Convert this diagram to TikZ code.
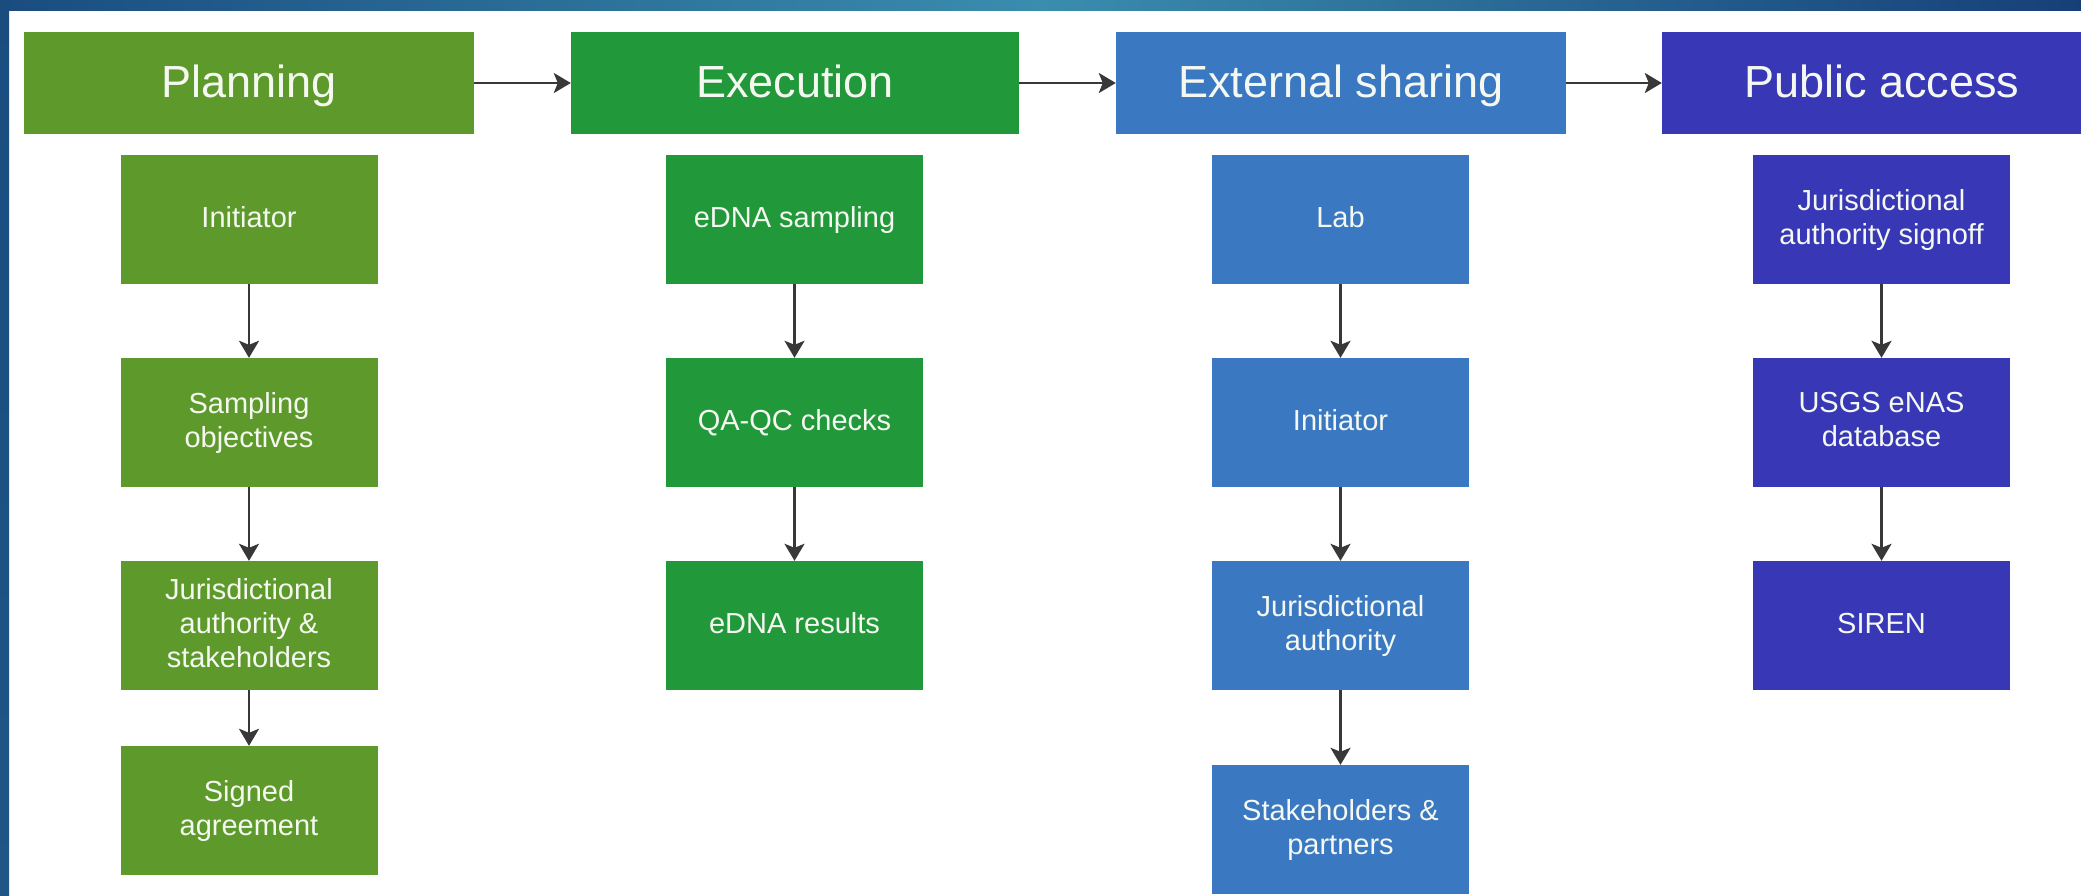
\documentclass[tikz,border=0pt]{standalone}
\usepackage{fontspec}
\setmainfont{Liberation Sans}
\usetikzlibrary{arrows.meta}

\definecolor{planC}{HTML}{5E9A2B}
\definecolor{execC}{HTML}{21983A}
\definecolor{shareC}{HTML}{3B78C2}
\definecolor{pubC}{HTML}{3838B6}
\definecolor{frameDark}{HTML}{1A4C80}
\definecolor{frameLight}{HTML}{3A8DAE}
\definecolor{frameRight}{HTML}{163F78}
\definecolor{lineC}{HTML}{383838}
\definecolor{textC}{HTML}{F4F8F0}

\begin{document}
\begin{tikzpicture}[x=1pt,y=-1pt,
  header/.style={rectangle, inner sep=0pt, minimum width=450pt, minimum height=102pt,
    text height=32pt, text depth=3pt,
    text=textC, font=\fontsize{45}{50}\selectfont},
  stepbox/.style={rectangle, inner sep=0pt, minimum width=257pt, minimum height=129pt,
    text=textC, align=center, font=\fontsize{29}{34}\selectfont,
    execute at begin node={\rule{0pt}{22pt}},
    execute at end node={\rule[-6pt]{0pt}{6pt}}},
  flow/.style={draw=lineC, line width=2.6pt,
    -{Stealth[length=17pt,width=20pt,inset=4pt]}}
]
\useasboundingbox (0,0) rectangle (2081,895);
\clip (0,0) rectangle (2081,895);
\fill[white] (0,0) rectangle (2081,895);

% frame strips
\shade[left color=frameDark, right color=frameRight, middle color=frameLight]
  (0,0) rectangle (2081,10);
\shade[top color=frameDark, bottom color=frameDark!85!frameLight] (0,0) rectangle (9,895);

% stage headers
\node[header, fill=planC]  (plan)  at (249,83)    {Planning};
\node[header, fill=execC, minimum width=448pt] (exec) at (795,83) {Execution};
\node[header, fill=shareC] (share) at (1341,83)   {External sharing};
\node[header, fill=pubC, minimum width=440pt] (pub) at (1882,83) {Public access};

\draw[flow] (plan) -- (exec);
\draw[flow] (exec) -- (share);
\draw[flow] (share) -- (pub);

% planning column
\node[stepbox, fill=planC] (p1) at (249,219.5) {Initiator};
\node[stepbox, fill=planC] (p2) at (249,422.5) {Sampling\\objectives};
\node[stepbox, fill=planC] (p3) at (249,625.5) {Jurisdictional\\authority \&\\stakeholders};
\node[stepbox, fill=planC] (p4) at (249,810.5) {Signed\\agreement};

% execution column
\node[stepbox, fill=execC] (e1) at (794.5,219.5) {eDNA sampling};
\node[stepbox, fill=execC] (e2) at (794.5,422.5) {QA-QC checks};
\node[stepbox, fill=execC] (e3) at (794.5,625.5) {eDNA results};

% external sharing column
\node[stepbox, fill=shareC] (s1) at (1340.5,219.5) {Lab};
\node[stepbox, fill=shareC] (s2) at (1340.5,422.5) {Initiator};
\node[stepbox, fill=shareC] (s3) at (1340.5,625.5) {Jurisdictional\\authority};
\node[stepbox, fill=shareC] (s4) at (1340.5,829.5) {Stakeholders \&\\partners};

% public access column
\node[stepbox, fill=pubC] (u1) at (1881.5,219.5) {Jurisdictional\\authority signoff};
\node[stepbox, fill=pubC] (u2) at (1881.5,422.5) {USGS eNAS\\database};
\node[stepbox, fill=pubC] (u3) at (1881.5,625.5) {SIREN};

% vertical flows
\draw[flow] (p1) -- (p2);
\draw[flow] (p2) -- (p3);
\draw[flow] (p3) -- (p4);
\draw[flow] (e1) -- (e2);
\draw[flow] (e2) -- (e3);
\draw[flow] (s1) -- (s2);
\draw[flow] (s2) -- (s3);
\draw[flow] (s3) -- (s4);
\draw[flow] (u1) -- (u2);
\draw[flow] (u2) -- (u3);
\end{tikzpicture}
\end{document}
